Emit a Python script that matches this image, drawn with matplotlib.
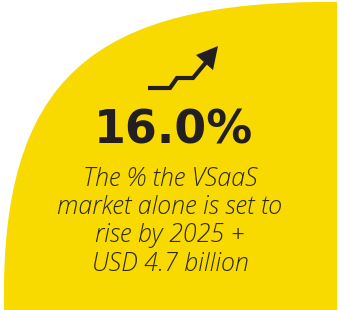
import matplotlib.pyplot as plt
from matplotlib.path import Path
from matplotlib.patches import PathPatch, Polygon

# content
headline = '16.0%'
caption_lines = ['The % the VSaaS', 'market alone is set to',
                 'rise by 2025 +', 'USD 4.7 billion']

YELLOW = '#F8D900'
DARK = '#231F20'

fig = plt.figure(figsize=(3.39, 3.10), dpi=100)
ax = fig.add_axes([0, 0, 1, 1])
ax.set_xlim(0, 339)
ax.set_ylim(310, 0)
ax.axis('off')

# yellow blob with curved upper-left edge
verts = [(4, 310), (0, 80), (90, 0), (337, 2), (337, 310), (4, 310)]
codes = [Path.MOVETO, Path.CURVE4, Path.CURVE4, Path.CURVE4,
         Path.LINETO, Path.CLOSEPOLY]
ax.add_patch(PathPatch(Path(verts, codes), facecolor=YELLOW, edgecolor='none'))

# rising arrow icon
ax.plot([148, 170, 177, 193, 208], [88, 88, 78, 78, 60], color=DARK,
        lw=3.0, solid_joinstyle='miter', solid_capstyle='butt')
ax.add_patch(Polygon([(196, 55), (218, 46), (213, 70)], closed=True,
                     facecolor=DARK, edgecolor='none'))

ax.text(173, 131, headline, ha='center', va='center', fontsize=33,
        fontweight='heavy', color=DARK, family='DejaVu Sans')

for i, line in enumerate(caption_lines):
    ax.text(170, 179 + i * 28.5, line, ha='center', va='center', fontsize=18,
            style='italic', fontweight='light', color='#2b2818',
            family=['Open Sans', 'DejaVu Sans'])

fig.savefig('out.png', dpi=100)
